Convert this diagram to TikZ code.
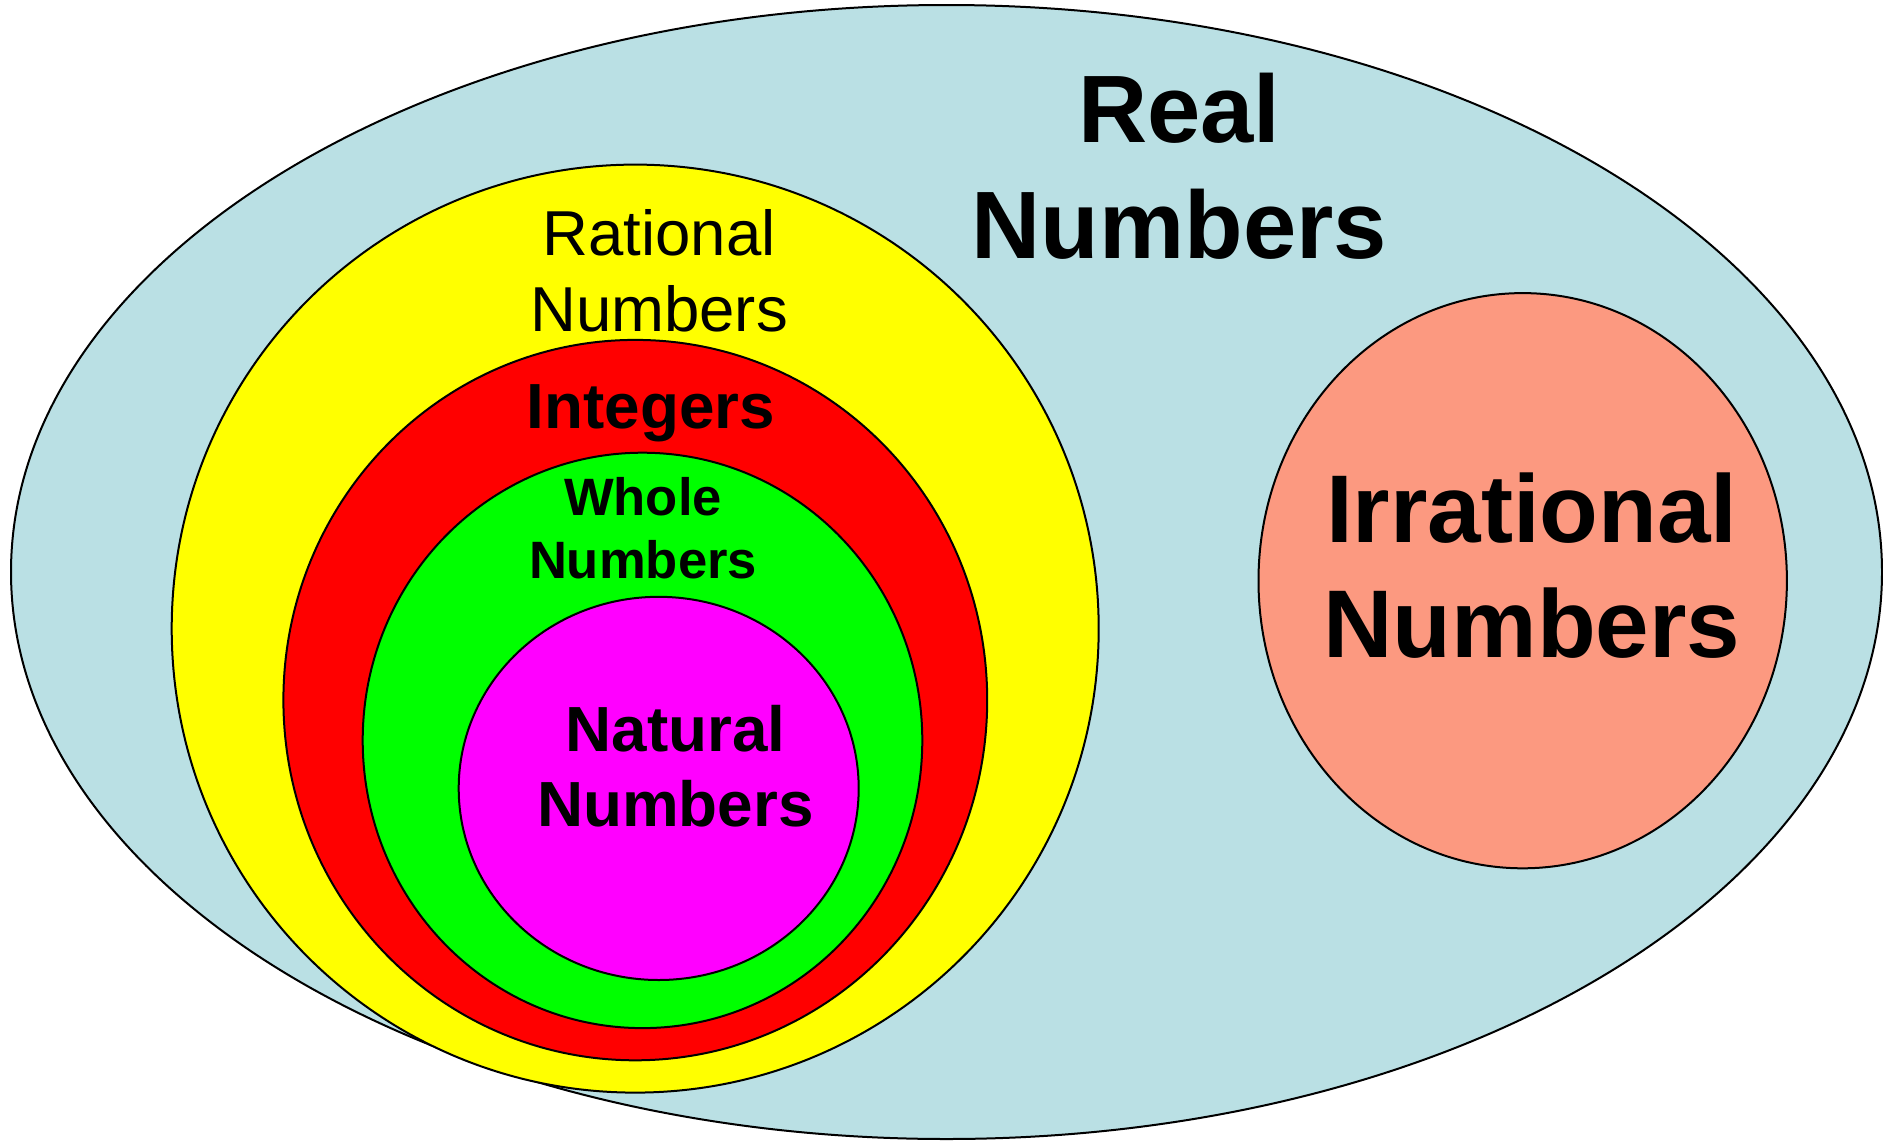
\documentclass[tikz,border=0pt]{standalone}
\usepackage{fontspec}
\setmainfont{Liberation Sans}
\definecolor{realbg}{RGB}{186,224,228}
\definecolor{ratfill}{RGB}{255,255,0}
\definecolor{intfill}{RGB}{255,0,0}
\definecolor{wholefill}{RGB}{0,255,0}
\definecolor{natfill}{RGB}{255,0,255}
\definecolor{irrfill}{RGB}{252,153,128}
\begin{document}
\begin{tikzpicture}[x=1pt,y=-1pt,
  setshape/.style={draw=black,line width=2pt},
  lbl/.style={anchor=north,inner sep=0pt,align=center,text=black}]
\useasboundingbox (0,0) rectangle (1883,1141);
% sets
\draw[setshape,fill=realbg] (946.5,572) ellipse [x radius=935.5pt, y radius=567pt];
\draw[setshape,fill=ratfill] (635.2,628.6) ellipse [x radius=463.5pt, y radius=464pt];
\draw[setshape,fill=intfill] (635.3,700.1) ellipse [x radius=351.9pt, y radius=360.2pt];
\draw[setshape,fill=wholefill] (642.5,740.4) ellipse [x radius=279.8pt, y radius=287.7pt];
\draw[setshape,fill=natfill] (658.7,788.4) ellipse [x radius=200pt, y radius=191.6pt];
\draw[setshape,fill=irrfill] (1522.7,580.7) ellipse [x radius=264.2pt, y radius=287.6pt];
% labels
\node[lbl,font=\fontsize{95.8}{115.6}\selectfont\bfseries] (real) at (1179.4,72.8) {Real\\Numbers};
\node[lbl,font=\fontsize{63.5}{75.7}\selectfont] (rational) at (659,209.7) {Rational\\Numbers};
\node[lbl,font=\fontsize{63.8}{75.7}\selectfont\bfseries] (integers) at (651,384.7) {Integers};
\node[lbl,font=\fontsize{52.6}{62.5}\selectfont\bfseries] (whole) at (643,477.4) {Whole\\Numbers};
\node[lbl,font=\fontsize{63.8}{75.7}\selectfont\bfseries] (natural) at (675.5,704.7) {Natural\\Numbers};
\node[lbl,font=\fontsize{96.2}{115}\selectfont\bfseries] (irrational) at (1531.8,472.8) {Irrational\\Numbers};
\end{tikzpicture}
\end{document}
